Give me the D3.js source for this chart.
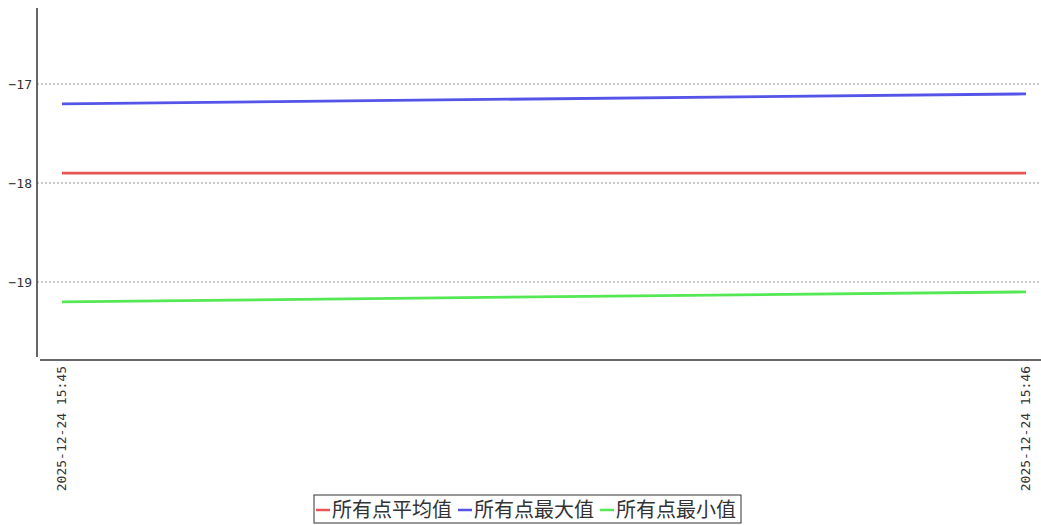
<!DOCTYPE html>
<html><head><meta charset="utf-8">
<script src="https://cdn.jsdelivr.net/npm/d3@7"></script>
<style>
body{margin:0;background:#fff}
text{font-family:"DejaVu Sans Mono",monospace;font-size:13px;fill:#333}
</style></head><body>
<svg id="chart" width="1041" height="525"></svg>
<script>
"use strict";
var times = ["2025-12-24 15:45", "2025-12-24 15:46"];
var avgVals = [-17.9, -17.9];
var maxVals = [-17.2, -17.1];
var minVals = [-19.2, -19.1];
var names = ["所有点平均值", "所有点最大值", "所有点最小值"];
var colors = ["#e85454", "#5454e8", "#54e854"];
var yTicks = [-17, -18, -19];

var svg = d3.select("#chart");
var plotLeft = 37, plotRight = 1041, plotTop = 8, plotBottom = 360;

var x = d3.scalePoint().domain(times).range([62, 1026]);
var y = d3.scaleLinear().domain([-19.788, -16.232]).range([plotBottom, plotTop]);

// grid
svg.append("g").selectAll("line").data(yTicks).enter().append("line")
  .attr("x1", plotLeft).attr("x2", plotRight)
  .attr("y1", d => y(d)).attr("y2", d => y(d))
  .attr("stroke", "#777").attr("stroke-dasharray", "2,2").attr("stroke-width", 0.8);

// axes
svg.append("line").attr("x1", plotLeft).attr("x2", plotLeft).attr("y1", plotTop).attr("y2", plotBottom - 3)
  .attr("stroke", "#333").attr("stroke-width", 1.5);
svg.append("line").attr("x1", plotLeft + 3).attr("x2", plotRight).attr("y1", plotBottom).attr("y2", plotBottom)
  .attr("stroke", "#333").attr("stroke-width", 1.5);

svg.append("g").selectAll("text").data(yTicks).enter().append("text")
  .attr("x", 32).attr("y", d => y(d)).attr("dy", "0.35em").attr("text-anchor", "end")
  .text(d => "\u2212" + Math.abs(d));

svg.append("g").selectAll("text").data(times).enter().append("text")
  .attr("transform", d => "translate(" + (x(d) + 4) + ",366) rotate(-90)")
  .attr("text-anchor", "end").text(d => d);

// lines
var line = d3.line().x((d, i) => x(times[i])).y(d => y(d));
[avgVals, maxVals, minVals].forEach(function (vals, i) {
  svg.append("path").datum(vals).attr("d", line).attr("fill", "none")
    .attr("stroke", colors[i]).attr("stroke-width", 2.8);
});

// legend
var lg = svg.append("g");
lg.append("rect").attr("x", 314).attr("y", 495).attr("width", 427).attr("height", 28)
  .attr("fill", "#fff").attr("stroke", "#333").attr("stroke-width", 1);
var offs = [316, 458, 600];
names.forEach(function (n, i) {
  lg.append("line").attr("x1", offs[i]).attr("x2", offs[i] + 14).attr("y1", 510).attr("y2", 510)
    .attr("stroke", colors[i]).attr("stroke-width", 2.5);
  lg.append("text").attr("x", offs[i] + 16).attr("y", 510).attr("dy", "0.36em")
    .style("font-family", "'Noto Sans CJK SC'").style("font-size", "20px").text(n);
});
</script></body></html>
